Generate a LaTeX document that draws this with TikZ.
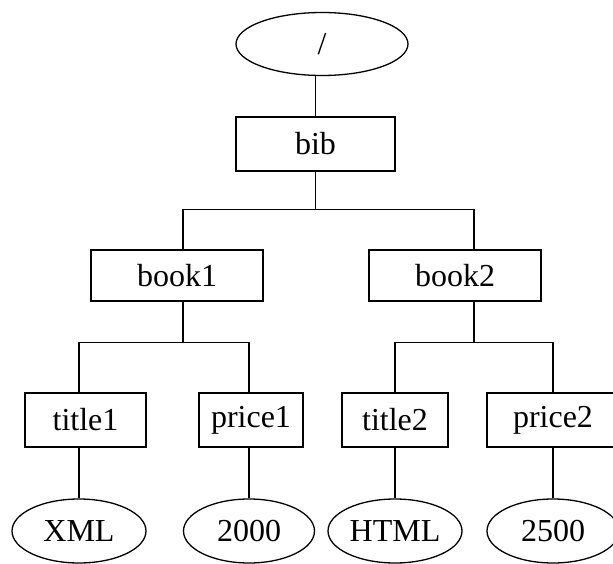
\documentclass[tikz,border=0pt]{standalone}
\usepackage{fontspec}
\setmainfont{Liberation Serif}
\usetikzlibrary{shapes.geometric}
\tikzset{every picture/.style={
  line width=1.3pt              % Thin plain lines.
  }
}

\begin{document}
\begin{tikzpicture}[
    x=1pt, y=-1pt,
    font=\fontsize{32}{36}\selectfont,
    box/.style={
      draw,
      rectangle,
      inner sep=0pt,
      minimum height=54pt
    },
    leaf/.style={
      draw,
      ellipse,
      inner sep=0pt,
      minimum width=134pt,
      minimum height=64pt
    }]

    % Helper macro: parent, drop, left child, right child.
    \def\fork#1#2#3#4{
        \draw (#1) -- ++(0,#2) coordinate (mid)
          (#3) |- (mid) -| (#4);
      }

    \clip (0,0) rectangle (613,564);

    % The document root and its element.
    \node[leaf,minimum width=172pt,minimum height=63pt] (root) at (322,44) {/};
    \node[box,minimum width=159pt] (bib) at (315.5,144) {bib};

    % The two books.
    \node[box,minimum width=172pt,minimum height=51pt] (book1) at (177,275.5) {book1};
    \node[box,minimum width=172pt,minimum height=51pt] (book2) at (455,275.5) {book2};

    % Their children.
    \node[box,minimum width=121pt] (title1) at (85.5,420) {title1};
    \node[box,minimum width=104pt] (price1) at (251,420) {price1};
    \node[box,minimum width=106pt] (title2) at (395,420) {title2};
    \node[box,minimum width=132pt] (price2) at (553,420) {price2};

    % Text values.
    \node[leaf] (xml) at (79,531) {XML};
    \node[leaf,minimum width=131pt] (v2000) at (249,531) {2000};
    \node[leaf] (html) at (395,531) {HTML};
    \node[leaf,minimum width=132pt] (v2500) at (553,531) {2500};

    % Connect the tree.
    \draw (bib.north) -- (bib.north |- root.south);
    \fork{bib.south}{38}{[xshift=6pt]book1.north}{[xshift=19pt]book2.north}
    \fork{[xshift=6pt]book1.south}{41}{[xshift=-6.5pt]title1.north}{[xshift=-2pt]price1.north}
    \fork{[xshift=19pt]book2.south}{41}{title2.north}{price2.north}

    \draw (xml.north) -- (xml.north |- title1.south);
    \draw (v2000.north) -- (v2000.north |- price1.south);
    \draw (html.north) -- (html.north |- title2.south);
    \draw (v2500.north) -- (v2500.north |- price2.south);
  \end{tikzpicture}
\end{document}
